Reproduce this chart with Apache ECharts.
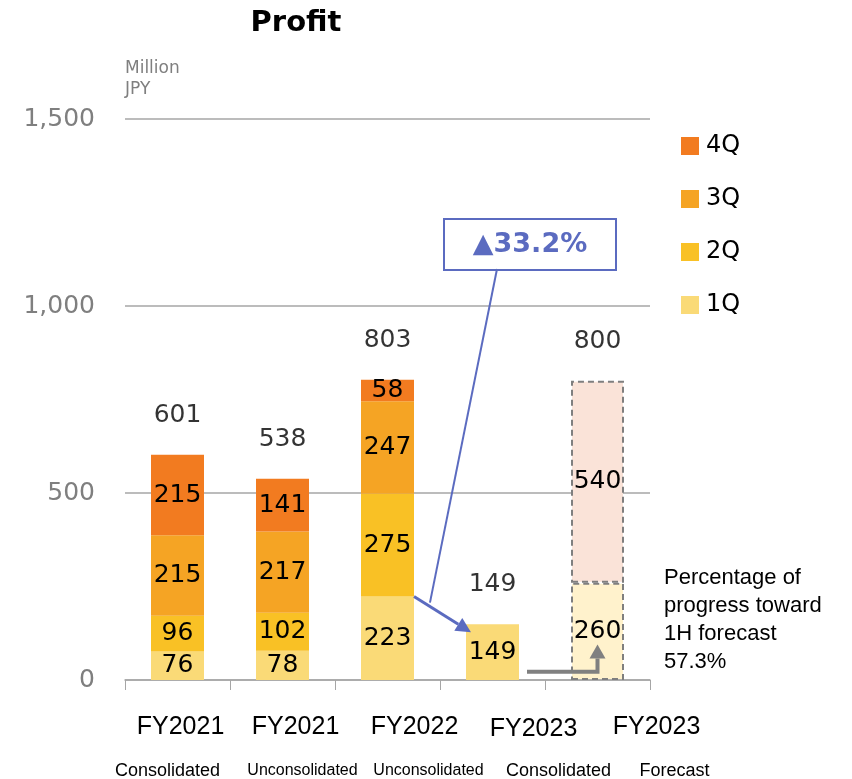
<!DOCTYPE html>
<html>
<head>
<meta charset="utf-8">
<script src="https://cdn.jsdelivr.net/npm/echarts@6/dist/echarts.min.js"></script>
<style>
  html, body { margin: 0; padding: 0; background: #fff; }
  #main { width: 852px; height: 779px; }
</style>
</head>
<body>
<div id="main"></div>
<script>
// data
var categories = ['FY2021', 'FY2021', 'FY2022', 'FY2023', 'FY2023'];
var subLabels = ['Consolidated', 'Unconsolidated', 'Unconsolidated', 'Consolidated', 'Forecast'];
var q1 = [76, 78, 223, 149, null];
var q2 = [96, 102, 275, null, null];
var q3 = [215, 217, 247, null, null];
var q4 = [215, 141, 58, null, null];
var forecast1H = [null, null, null, null, 260];
var forecast2H = [null, null, null, null, 540];
var totals = [601, 538, 803, 149, 800];
var yTicks = [0, 500, 1000, 1500];

var numFont = 'DejaVu Sans';
var labelFont = 'Liberation Sans';
var colors = { q1: '#FADA77', q2: '#F9C125', q3: '#F5A424', q4: '#F27B20' };

// the category texts in the source slide sit a little right of their bars
var fyShift = [3, 13, 27, 41, 59];
var subShift = [-10, 20, 41, 66, 77];

var chart = echarts.init(document.getElementById('main'));

function shiftPad(d, top) {
  return d >= 0 ? [top || 0, 0, 0, 2 * d] : [top || 0, -2 * d, 0, 0];
}

var rich = {};
categories.forEach(function (c, i) {
  rich['a' + i] = { fontSize: 25, color: '#000', fontFamily: labelFont, lineHeight: 44, padding: shiftPad(fyShift[i], i === 3 ? 5 : 0) };
  rich['b' + i] = {
    fontSize: subLabels[i] === 'Unconsolidated' ? 16 : 18,
    color: '#000',
    fontFamily: labelFont,
    lineHeight: 44,
    padding: shiftPad(subShift[i])
  };
});

function valueLabel() {
  return {
    show: true,
    position: 'inside',
    color: '#000',
    fontSize: 25,
    fontFamily: numFont,
    formatter: function (p) { return p.value == null ? '' : p.value; }
  };
}

function quarterSeries(name, data, color) {
  return {
    name: name,
    type: 'bar',
    stack: 'actual',
    barWidth: 53,
    barGap: '-100%',
    data: data,
    itemStyle: { color: color },
    label: valueLabel()
  };
}

function forecastSeries(name, data, color) {
  return {
    name: name,
    type: 'bar',
    stack: 'forecast',
    barWidth: 53,
    barGap: '-100%',
    data: data,
    itemStyle: { color: color, borderColor: '#7F7F7F', borderWidth: 2, borderType: [6, 4] },
    label: valueLabel()
  };
}

chart.setOption({
  animation: false,
  title: {
    text: 'Profit',
    left: 291,
    top: 4,
    textAlign: 'center',
    textStyle: { fontSize: 29, fontWeight: 'bold', color: '#000', fontFamily: numFont }
  },
  legend: {
    data: ['4Q', '3Q', '2Q', '1Q'],
    orient: 'vertical',
    left: 676,
    top: 129,
    icon: 'rect',
    itemWidth: 18,
    itemHeight: 18,
    itemGap: 29,
    textStyle: { fontSize: 24, color: '#000', fontFamily: numFont, padding: [0, 0, 0, 2] }
  },
  grid: { left: 125, right: 202, top: 119, bottom: 99, containLabel: false, outerBoundsMode: 'none' },
  xAxis: {
    type: 'category',
    data: categories,
    axisLine: { lineStyle: { color: '#A6A6A6', width: 1.5 } },
    axisTick: { show: true, length: 10, lineStyle: { color: '#A6A6A6' } },
    axisLabel: {
      margin: 25,
      interval: 0,
      hideOverlap: false,
      formatter: function (v, i) {
        return '{a' + i + '|' + v + '}\n{b' + i + '|' + subLabels[i] + '}';
      },
      rich: rich
    }
  },
  yAxis: {
    type: 'value',
    min: yTicks[0],
    max: yTicks[yTicks.length - 1],
    interval: 500,
    axisLine: { show: false },
    axisTick: { show: false },
    splitLine: { lineStyle: { color: '#A6A6A6', width: 1.5 } },
    axisLabel: {
      color: '#7F7F7F',
      fontSize: 25,
      fontFamily: numFont,
      margin: 30,
      formatter: function (v) { return v.toLocaleString('en-US'); }
    }
  },
  series: [
    quarterSeries('1Q', q1, colors.q1),
    quarterSeries('2Q', q2, colors.q2),
    quarterSeries('3Q', q3, colors.q3),
    quarterSeries('4Q', q4, colors.q4),
    forecastSeries('Forecast 1H', forecast1H, '#FFF2CC'),
    forecastSeries('Forecast 2H', forecast2H, '#FAE3D8'),
    {
      name: 'Total',
      type: 'scatter',
      data: totals,
      symbolSize: 0,
      silent: true,
      label: {
        show: true,
        position: 'top',
        distance: 27,
        color: '#000',
        fontSize: 25,
        fontFamily: numFont
      }
    }
  ]
});

// annotations placed from axis coordinates
function px(ci, v) { return chart.convertToPixel({ gridIndex: 0 }, [ci, v]); }

function arrow(points, color, width, headLen, headW) {
  var n = points.length;
  var tip = points[n - 1], prev = points[n - 2];
  var dx = tip[0] - prev[0], dy = tip[1] - prev[1];
  var len = Math.sqrt(dx * dx + dy * dy);
  dx /= len; dy /= len;
  var base = [tip[0] - dx * headLen, tip[1] - dy * headLen];
  var nx = -dy, ny = dx;
  var shaft = points.slice(0, n - 1).concat([base]);
  return [
    { type: 'polyline', shape: { points: shaft }, style: { stroke: color, lineWidth: width, fill: null }, z: 100 },
    {
      type: 'polygon',
      shape: { points: [tip, [base[0] + nx * headW / 2, base[1] + ny * headW / 2], [base[0] - nx * headW / 2, base[1] - ny * headW / 2]] },
      style: { fill: color },
      z: 100
    }
  ];
}

var blue = '#5B6BC0';
var grey = '#808080';
var half = 26.5;
var a0 = px(2, q1[2]);
var a1 = px(3, q1[3]);
var blueStart = [a0[0] + half, a0[1]];
var blueEnd = [a1[0] - half + 5, a1[1] + 8];
var join = [blueStart[0] + 0.28 * (blueEnd[0] - blueStart[0]), blueStart[1] + 0.28 * (blueEnd[1] - blueStart[1]) - 4];

var g1 = px(3, 22);
var g2 = px(4, 22);
var g3 = px(4, 95);
var greyPts = [[g1[0] + half + 8, g1[1]], [g2[0], g2[1]], [g3[0], g3[1]]];

var graphics = []
  .concat(arrow([blueStart, blueEnd], blue, 3, 15, 15))
  .concat(arrow(greyPts, grey, 4, 14, 16));

graphics.push({ type: 'line', shape: { x1: join[0], y1: join[1], x2: 497, y2: 269 }, style: { stroke: blue, lineWidth: 2 }, z: 100 });
graphics.push({
  type: 'group', left: 443, top: 218, z: 110,
  children: [
    { type: 'rect', shape: { x: 0, y: 0, width: 172, height: 51 }, style: { fill: '#fff', stroke: blue, lineWidth: 2 } },
    { type: 'text', x: 86, y: 26, style: { text: '▲33.2%', fill: blue, font: 'bold 27px "DejaVu Sans"', align: 'center', verticalAlign: 'middle' } }
  ]
});
graphics.push({
  type: 'text', left: 125, top: 58, z: 100,
  style: { text: 'Million\nJPY', fill: '#7F7F7F', font: '17px "DejaVu Sans"', lineHeight: 21 }
});
graphics.push({
  type: 'text', left: 664, top: 564, z: 100,
  style: { text: 'Percentage of\nprogress toward\n1H forecast\n57.3%', fill: '#000', font: '22px "Liberation Sans"', lineHeight: 28 }
});

chart.setOption({ graphic: graphics });
</script>
</body>
</html>
